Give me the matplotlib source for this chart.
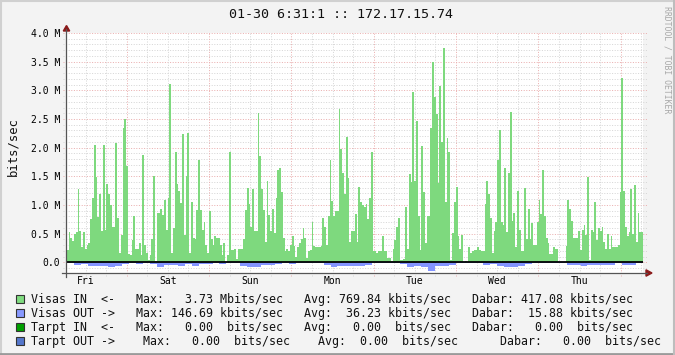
import matplotlib
matplotlib.use("Agg")
import matplotlib.pyplot as plt
import numpy as np
from matplotlib.patches import Rectangle, Polygon
from matplotlib.lines import Line2D

W, H = 675, 355
MONO = "DejaVu Sans Mono"

# ---------------- data ----------------
title = "01-30 6:31:1 :: 172.17.15.74"
y_label = "bits/sec"
watermark = "RRDTOOL / TOBI OETIKER"
day_labels = ["Fri", "Sat", "Sun", "Mon", "Tue", "Wed", "Thu"]
t_start, t_end = -17.5, 150.5        # hours relative to Sat 00:00

# Visas IN (Mbit/s), read left to right
visas_in = [
    0.22, 0.52, 0.42, 0.37, 0.5, 0.52, 1.27, 0.55, 0.26, 0.52, 0.24, 0.31, 0.34, 0.76, 1.12, 2.05, 1.49, 0.79,
    1.19, 0.55, 2.05, 0.56, 1.36, 1.19, 1.0, 0.61, 0.61, 2.08, 0.78, 0.17, 0.48, 2.34, 2.5, 1.68, 0.14, 0.12,
    0.39, 0.8, 0.24, 0.24, 0.33, 0.13, 1.87, 0.30, 0.17, 0.04, 0.13, 0.41, 1.5, 0.02, 0.86, 0.86, 0.93,
    0.83, 1.09, 0.56, 1.13, 3.11, 0.16, 0.59, 1.92, 1.37, 1.25, 1.03, 2.24, 0.48, 1.5, 2.25, 0.16, 1.05, 0.43,
    0.41, 0.91, 1.79, 0.91, 0.56, 0.71, 0.31, 0.17, 0.9, 0.41, 0.3, 0.45, 0.42, 0.43, 0.3, 0.13, 0.33, 0.01,
    0.12, 1.93, 0.22, 0.22, 0.24, 0.06, 0.23, 0.23, 0.23, 0.41, 0.91, 1.29, 1.01, 0.61, 1.28, 0.54, 0.54,
    2.6, 1.85, 1.27, 0.91, 0.35, 1.41, 0.83, 0.54, 0.93, 0.51, 1.13, 1.61, 1.65, 1.23, 0.42, 0.2, 0.23, 0.2,
    0.3, 0.45, 0.29, 0.1, 0.27, 0.33, 0.41, 0.59, 0.42, 0.08, 0.2, 0.22, 0.71, 0.29, 0.27, 0.27, 0.27, 0.29,
    0.77, 0.61, 0.3, 0.8, 1.79, 1.07, 0.8, 0.9, 0.9, 2.67, 1.98, 1.55, 1.19, 2.18, 1.47, 0.36, 0.54, 0.55,
    0.84, 0.36, 1.32, 1.05, 1.0, 0.97, 1.01, 0.76, 1.13, 1.92, 0.2, 0.2, 0.17, 0.2, 0.2, 0.45, 0.2, 0.2,
    0.07, 0.07, 0.02, 0.23, 0.39, 0.61, 0.77, 0.04, 0.04, 0.06, 0.97, 0.23, 1.54, 1.4, 2.97, 1.42, 2.47, 0.8,
    0.22, 2.02, 1.23, 0.33, 0.8, 0.8, 2.35, 3.49, 2.89, 2.58, 1.38, 3.07, 2.09, 3.73, 1.05, 2.17, 1.92,
    0.04, 0.51, 1.06, 1.32, 0.45, 0.24, 0.47, 0.01, 0.02, 0.01, 0.27, 0.16, 0.19, 0.22, 0.22, 0.27, 0.22, 0.2,
    0.2, 1.01, 1.41, 1.19, 0.78, 0.17, 0.54, 0.71, 1.79, 2.31, 0.71, 0.65, 1.65, 0.52, 1.55, 2.62, 0.72, 0.86,
    0.27, 1.25, 0.56, 0.2, 0.2, 1.29, 0.41, 0.93, 0.41, 0.68, 0.31, 0.31, 0.71, 1.09, 0.84, 1.61,
    0.8, 0.42, 0.33, 0.14, 0.14, 0.26, 0.24, 0.24, 0.0, 0.0, 0.0, 0.0, 0.29, 1.09, 0.93, 0.72, 0.42, 0.42,
    0.42, 0.55, 0.22, 0.56, 0.65, 0.48, 1.48, 0.04, 0.56, 0.52, 1.06, 0.39, 0.59, 0.54, 0.61, 0.35, 0.24, 0.49,
    0.24, 0.45, 0.27, 0.27, 0.27, 0.3, 1.22, 3.22, 1.25, 0.61, 0.45, 0.52, 1.27, 0.49, 1.34, 0.36, 0.86, 0.52,
    0.52,
]

# Visas OUT (Mbit/s), drawn downward
visas_out = [
    0.02, 0.04, 0.03, 0.07, 0.07, 0.06, 0.08, 0.07, 0.03, 0.02, 0.03, 0.02, 0.03,
    0.08, 0.05, 0.05, 0.07, 0.03, 0.06, 0.03, 0.03, 0.02, 0.03, 0.02, 0.01, 0.06, 0.08,
    0.08, 0.04, 0.04, 0.03, 0.02, 0.03, 0.01, 0.01, 0.01, 0.02, 0.04, 0.08, 0.07, 0.07,
    0.06, 0.06, 0.04, 0.01, 0.01, 0.01, 0.01, 0.03, 0.08, 0.06, 0.08, 0.147, 0.07, 0.07,
    0.05, 0.01, 0.01, 0.01, 0.02, 0.05, 0.03, 0.07, 0.08, 0.09, 0.06, 0.03, 0.01, 0.01,
    0.01, 0.01, 0.01, 0.05, 0.05, 0.07, 0.05, 0.05, 0.05, 0.04, 0.02, 0.05, 0.05, 0.02,
]

ytick_vals = [0.0, 0.5, 1.0, 1.5, 2.0, 2.5, 3.0, 3.5, 4.0]
ytick_labels = ["0.0", "0.5 M", "1.0 M", "1.5 M", "2.0 M", "2.5 M", "3.0 M", "3.5 M", "4.0 M"]

legend_names = ["Visas IN  <-", "Visas OUT ->", "Tarpt IN  <-", "Tarpt OUT ->"]
legend_colors = ["#80DC80", "#8899FF", "#00A000", "#5577CC"]
legend_max = [(3.73, "M"), (146.69, "k"), (0.00, " "), (0.00, " ")]
legend_avg = [(769.84, "k"), (36.23, "k"), (0.00, " "), (0.00, " ")]
legend_cur = [(417.08, "k"), (15.88, "k"), (0.00, " "), (0.00, " ")]

GREEN = "#7ED97E"
BLUE = "#8394FF"
MINOR = "#d6d6d6"
MAJOR = "#eab0b0"
ARROW = "#8b1a1a"

# ---------------- figure ----------------
fig = plt.figure(figsize=(W / 100, H / 100), dpi=100, facecolor="#f3f3f3")

def fx(x):
    return x / W

def fy(y):
    return 1 - y / H

ax_l, ax_r, ax_t, ax_b = 66.7, 643.0, 33.0, 273.0
ax = fig.add_axes([fx(ax_l), fy(ax_b), fx(ax_r - ax_l), (ax_b - ax_t) / H])
ax.set_facecolor("white")
ymin, ymax = -0.187, 4.0
for s in ax.spines.values():
    s.set_visible(False)

# grid
dot = (0, (1, 1.6))
lw_px = 0.72
hours_per_px = (t_end - t_start) / (ax_r - ax_l)
val_per_px = (ymax - ymin) / (ax_b - ax_t)
gx0, gx1 = t_start - 4 * hours_per_px, t_end + 4 * hours_per_px
for i in range(-1, 41):
    v = i / 10
    major = (i % 5 == 0)
    ax.plot([gx0, gx1], [v, v], color=MAJOR if major else MINOR, lw=lw_px,
            linestyle=dot, clip_on=False, zorder=1)
gy0 = ymin - 3 * val_per_px
for h in np.arange(-12, t_end, 6):
    major = (h % 24 == 0)
    ax.plot([h, h], [gy0, ymax], color=MAJOR if major else MINOR, lw=lw_px,
            linestyle=dot, clip_on=False, zorder=1)

# data
n_in = len(visas_in)
x_in = np.linspace(t_start, t_end, n_in + 1)[:-1]
ax.bar(x_in, visas_in, width=(t_end - t_start) / n_in, align="edge",
       color=GREEN, linewidth=0, zorder=2)
n_out = len(visas_out)
x_out = np.linspace(t_start, t_end, n_out + 1)[:-1]
ax.bar(x_out, -np.array(visas_out), width=(t_end - t_start) / n_out, align="edge",
       color=BLUE, linewidth=0, zorder=2)
ax.axhline(0, color="black", lw=1.3, zorder=3)

# ticks (day labels at noon, Fri is the day before the first midnight)
ax.set_yticks(ytick_vals, ytick_labels)
ax.set_xticks(np.arange(-12, -12 + 24 * len(day_labels), 24), day_labels)
ax.set_xlim(t_start, t_end)
ax.set_ylim(ymin, ymax)
ax.tick_params(axis="y", length=0, pad=4.6, labelsize=7)
ax.tick_params(axis="x", length=0, pad=2.2, labelsize=7)
for lab in ax.get_xticklabels() + ax.get_yticklabels():
    lab.set_fontfamily(MONO)

# axis lines and arrows
fig.add_artist(Line2D([fx(ax_l - 0.3), fx(ax_l - 0.3)], [fy(277), fy(29)], color="#555555", lw=0.9))
fig.add_artist(Line2D([fx(62), fx(647)], [fy(ax_b), fy(ax_b)], color="#555555", lw=0.9))
fig.add_artist(Polygon([[fx(63.3), fy(31)], [fx(69.7), fy(31)], [fx(66.5), fy(25.5)]],
                       closed=True, color=ARROW, transform=fig.transFigure))
fig.add_artist(Polygon([[fx(646), fy(ax_b - 3.2)], [fx(646), fy(ax_b + 3.2)], [fx(652), fy(ax_b)]],
                       closed=True, color=ARROW, transform=fig.transFigure))

# texts
fig.text(fx(341), fy(15), title, family=MONO, fontsize=9.6, ha="center", va="center", color="#111111")
fig.text(fx(13), fy(147), y_label, family=MONO, fontsize=8.8, ha="center", va="center",
         rotation=90, color="#111111")
fig.text(fx(666.5), fy(60), watermark, family=MONO, fontsize=5.9, ha="center", va="center",
         rotation=-90, color="#a8a8a8")

# legend
rows_y = [299, 313.2, 327.2, 341.2]
lines = []
for i in range(3):
    (mv, mp), (av, ap), (cv, cp) = legend_max[i], legend_avg[i], legend_cur[i]
    lines.append(f"{legend_names[i]}   Max: {mv:6.2f} {mp}bits/sec   Avg: {av:6.2f} {ap}bits/sec"
                 f"   Dabar: {cv:6.2f} {cp}bits/sec")
(mv, mp), (av, ap), (cv, cp) = legend_max[3], legend_avg[3], legend_cur[3]
lines.append(f"{legend_names[3]}    Max:   {mv:.2f} {mp}bits/sec    Avg:  {av:.2f} {ap}bits/sec"
             f"      Dabar:   {cv:.2f} {cp}bits/sec")
for i, y in enumerate(rows_y):
    fig.add_artist(Rectangle((fx(15.5), fy(y + 4)), 8 / W, 8 / H, transform=fig.transFigure,
                             facecolor=legend_colors[i], edgecolor="#333333", lw=0.8))
    fig.text(fx(31), fy(y), lines[i], family=MONO, fontsize=8.35, ha="left", va="center",
             color="#111111")

# frame
fig.add_artist(Line2D([0, 1], [fy(0.5), fy(0.5)], color="#d0d0d0", lw=1.5))
fig.add_artist(Line2D([fx(0.5), fx(0.5)], [0, 1], color="#d0d0d0", lw=1.5))
fig.add_artist(Line2D([0, 1], [fy(353.8), fy(353.8)], color="#9a9a9a", lw=2.0))
fig.add_artist(Line2D([fx(674), fx(674)], [0, 1], color="#bdbdbd", lw=1.5))

fig.savefig("out.png", dpi=100, facecolor=fig.get_facecolor())
